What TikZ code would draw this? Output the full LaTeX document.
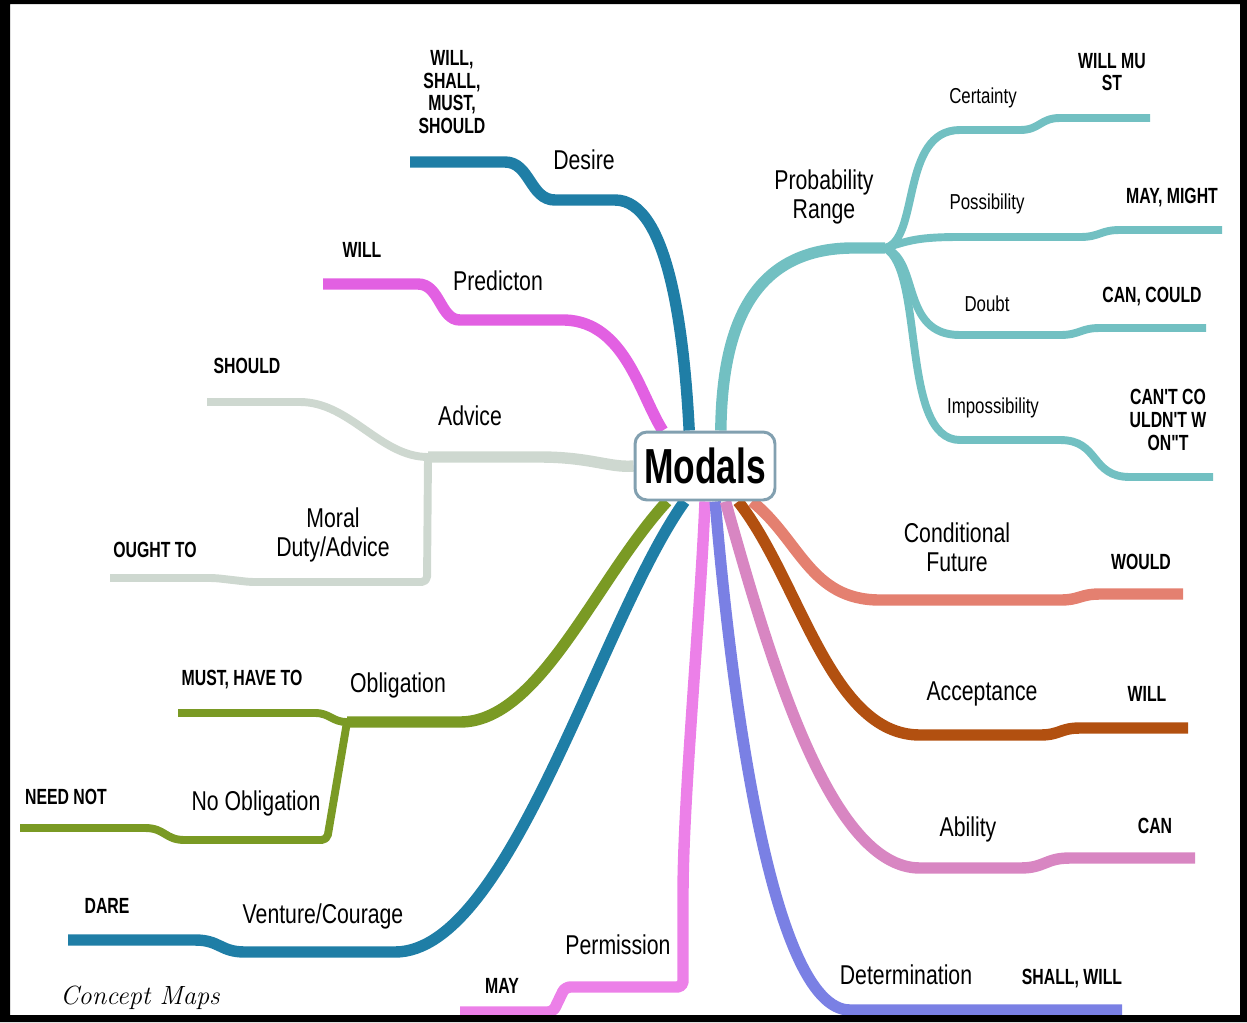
\documentclass[tikz,border=0pt]{standalone}
\usepackage{fontspec}
\usetikzlibrary{backgrounds}
\newfontfamily\narrowsans[FakeStretch=0.78]{Liberation Sans}
\newfontfamily\capsans[FakeStretch=0.72]{Liberation Sans}
\begin{document}
\begin{tikzpicture}[x=0.02cm, y=-0.02cm,
    branch/.style={line width=6.5pt, line join=round},
    twig/.style={line width=4.5pt, line join=round},
    topic/.style={font=\narrowsans\fontsize{15.5}{16.5}\selectfont, align=center, inner sep=0pt},
    subtopic/.style={font=\narrowsans\fontsize{12.3}{13}\selectfont, inner sep=0pt},
    modal/.style={font=\capsans\bfseries\fontsize{12.5}{13}\selectfont, align=center, inner sep=0pt}]
        \definecolor{desireblue}{RGB}{31,126,166}
        \definecolor{predmagenta}{RGB}{226,96,226}
        \definecolor{advicegray}{RGB}{206,216,208}
        \definecolor{obliggreen}{RGB}{122,154,36}
        \definecolor{permpink}{RGB}{236,128,232}
        \definecolor{determblue}{RGB}{122,128,228}
        \definecolor{abilitypink}{RGB}{216,134,194}
        \definecolor{acceptbrown}{RGB}{178,80,16}
        \definecolor{condsalmon}{RGB}{228,128,112}
        \definecolor{probteal}{RGB}{114,192,194}
        \definecolor{boxedge}{RGB}{130,160,176}
        \useasboundingbox (0,0) rectangle (1247,1022);
        % centre
        \node[draw=boxedge, line width=1.7pt, fill=white, rounded corners=0.24cm, minimum width=2.8cm, minimum height=1.36cm, font=\capsans\bfseries\fontsize{28}{28}\selectfont] (modals) at (705,466) {Modals};
        \begin{scope}[on background layer]
        % left side
        \draw[branch, desireblue] (modals.114) .. controls (684,330) and (668,200) .. (615,200) -- (555,200) .. controls (530,200) and (530,162) .. (505,162) -- (410,162);
        \draw[branch, predmagenta] (modals.140) .. controls (640,395) and (625,322) .. (565,320) -- (460,320) .. controls (440,320) and (440,284) .. (418,284) -- (323,284);
        \coordinate (advj) at (428,457);
        \draw[branch, advicegray] (modals.west) .. controls (610,468) and (590,457) .. (540,457) -- (advj);
        \draw[twig, advicegray] (advj) .. controls (380,457) and (350,402) .. (300,402) -- (207,402);
        \draw[twig, advicegray, rounded corners=3pt] (advj) -- (427,582) -- (250,582) -- (215,578) -- (110,578);
        \coordinate (oblj) at (347,722);
        \draw[branch, obliggreen] (modals.223) .. controls (595,580) and (540,722) .. (460,722) -- (oblj);
        \draw[twig, obliggreen] (oblj) .. controls (332,722) and (330,713) .. (315,713) -- (178,713);
        \draw[twig, obliggreen, rounded corners=3pt] (oblj) -- (327,840) -- (190,840) .. controls (165,840) and (165,828) .. (140,828) -- (20,828);
        \draw[branch, desireblue] (modals.240) .. controls (600,620) and (510,952) .. (395,952) -- (245,952) .. controls (220,952) and (220,940) .. (195,940) -- (68,940);
        % bottom
        \draw[branch, permpink, rounded corners=3pt] (modals.south) .. controls (700,620) and (683,800) .. (683,900) -- (683,987) -- (565,987) -- (553,1012) -- (460,1012);
        \draw[branch, determblue] (modals.286) .. controls (730,680) and (770,1010) .. (850,1010) -- (1122,1010);
        % right side
        \draw[branch, abilitypink] (modals.300) .. controls (770,660) and (830,868) .. (920,868) -- (1020,868) .. controls (1045,868) and (1045,858) .. (1070,858) -- (1195,858);
        \draw[branch, acceptbrown] (modals.313) .. controls (800,580) and (830,735) .. (920,735) -- (1040,735) .. controls (1060,735) and (1060,728) .. (1080,728) -- (1188,728);
        \draw[branch, condsalmon] (modals.323) .. controls (800,540) and (810,600) .. (880,600) -- (1060,600) .. controls (1080,600) and (1080,594) .. (1100,594) -- (1183,594);
        \coordinate (probj) at (885,248);
        \draw[branch, probteal] (modals.66) .. controls (722,330) and (750,250) .. (850,248) -- (probj);
        \draw[twig, probteal] (probj) .. controls (920,240) and (900,130) .. (960,130) -- (1020,130) .. controls (1040,130) and (1040,118) .. (1060,118) -- (1150,118);
        \draw[twig, probteal] (probj) .. controls (910,240) and (920,237) .. (960,237) -- (1080,237) .. controls (1100,237) and (1100,230) .. (1120,230) -- (1222,230);
        \draw[twig, probteal] (probj) .. controls (920,260) and (900,335) .. (960,335) -- (1060,335) .. controls (1080,335) and (1080,328) .. (1100,328) -- (1206,328);
        \draw[twig, probteal] (probj) .. controls (925,270) and (900,440) .. (960,440) -- (1060,440) .. controls (1100,440) and (1090,477) .. (1130,477) -- (1213,477);
        \end{scope}
        % texts
        \node[topic] (desire) at (584,160) {Desire};
        \node[modal] (desirew) at (452,92) {WILL,\\SHALL,\\MUST,\\SHOULD};
        \node[topic] (predicton) at (498,281) {Predicton};
        \node[modal] (predw) at (362,250) {WILL};
        \node[topic] (advice) at (470,416) {Advice};
        \node[modal] (adviceshould) at (247,366) {SHOULD};
        \node[topic] (moral) at (333,535) {Moral\\Duty/Advice};
        \node[modal] (ought) at (155,550) {OUGHT TO};
        \node[topic] (oblig) at (398,685) {Obligation};
        \node[modal] (must) at (242,680) {MUST, HAVE TO};
        \node[topic] (noobl) at (256,803) {No Obligation};
        \node[modal] (neednot) at (66,797) {NEED NOT};
        \node[topic] (venture) at (323,916) {Venture/Courage};
        \node[modal] (dare) at (107,906) {DARE};
        \node[topic] (permission) at (618,945) {Permission};
        \node[modal] (may) at (502,986) {MAY};
        \node[topic] (determ) at (906,975) {Determination};
        \node[modal] (shallwill) at (1072,979) {SHALL, WILL};
        \node[topic] (ability) at (968,829) {Ability};
        \node[modal] (can) at (1155,826) {CAN};
        \node[topic] (accept) at (982,694) {Acceptance};
        \node[modal] (acceptwill) at (1147,694) {WILL};
        \node[topic] (cond) at (957,547) {Conditional\\Future};
        \node[modal] (would) at (1141,562) {WOULD};
        \node[topic] (prob) at (824,197) {Probability\\Range};
        \node[subtopic] (certainty) at (983,98) {Certainty};
        \node[modal] (willmust) at (1112,72) {WILL MU\\ST};
        \node[subtopic] (possib) at (987,204) {Possibility};
        \node[modal] (maymight) at (1172,198) {MAY, MIGHT};
        \node[subtopic] (doubt) at (987,304) {Doubt};
        \node[modal] (cancould) at (1152,297) {CAN, COULD};
        \node[subtopic] (impossib) at (993,408) {Impossibility};
        \node[modal] (cant) at (1168,420) {CAN'T CO\\ULDN'T W\\ON"T};
        \node[font=\itshape\fontsize{15}{15}\selectfont] (maps) at (140,998) {Concept Maps};
        % frame
        \fill[black, even odd rule] (0,0) rectangle (1247,1022) (10,4) rectangle (1240,1015);
    \end{tikzpicture}
\end{document}
